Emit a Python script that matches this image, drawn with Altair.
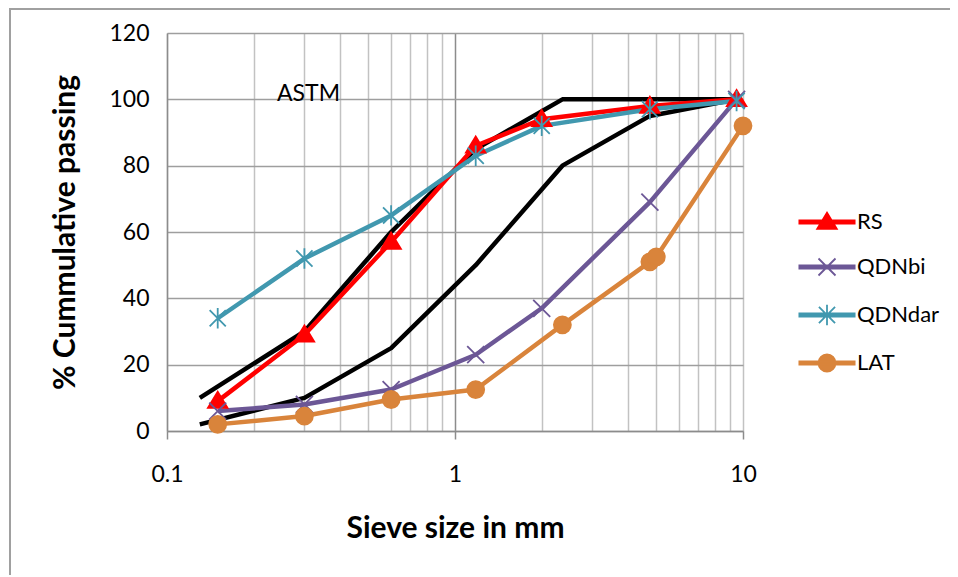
import altair as alt
import pandas as pd

# ---------------- data ----------------
series_names = ["RS", "QDNbi", "QDNdar", "LAT"]

rs_x = [0.15, 0.3, 0.6, 1.18, 2.0, 4.75, 9.5]
rs_y = [9, 29, 57, 86, 94, 98, 100]

qdnbi_x = [0.15, 0.3, 0.6, 1.18, 2.0, 4.75, 9.5]
qdnbi_y = [6, 8, 12.5, 23, 37, 69, 100]

qdndar_x = [0.15, 0.3, 0.6, 1.18, 2.0, 4.75, 9.5]
qdndar_y = [34, 52, 65, 83, 92, 97, 99.5]

lat_x = [0.15, 0.3, 0.6, 1.18, 2.36, 4.75, 5.0, 10]
lat_y = [2, 4.5, 9.5, 12.5, 32, 51, 52.5, 92]

astm_x = [0.13, 0.3, 0.6, 1.18, 2.36, 4.75, 9.5]
astm_upper = [10, 30, 60, 85, 100, 100, 100]
astm_lower = [2, 10, 25, 50, 80, 95, 100]

astm_label = ["ASTM"]
astm_label_x = [0.31]
astm_label_y = [101.5]

x_grid_values = [0.1, 0.2, 0.3, 0.4, 0.5, 0.6, 0.7, 0.8, 0.9,
                 1, 2, 3, 4, 5, 6, 7, 8, 9, 10]
y_tick_values = [0, 20, 40, 60, 80, 100, 120]

# ---------------- styles ----------------
colors = ["#ff0000", "#6c5796", "#4198af", "#d9843b"]
fills = ["#ff0000", "transparent", "transparent", "#d9843b"]
TRI = "M0,-1.1L1.15,0.8L-1.15,0.8Z"
XSH = "M-1,-1L1,1M-1,1L1,-1"
AST = "M-0.95,-0.95L0.95,0.95M-0.95,0.95L0.95,-0.95M0,-1.2L0,1.2"
CIR = "M1,0A1,1,0,1,1,-1,0A1,1,0,1,1,1,0Z"
point_shapes = [TRI, XSH, AST, "circle"]
BAR = "M-3.25,-0.18L3.25,-0.18L3.25,0.18L-3.25,0.18Z"
legend_shapes = [BAR + TRI, BAR + XSH, BAR + AST, BAR + CIR]

FONT = "Lato"

# ---------------- tables ----------------
rows = []
for name, xs, ys in [("RS", rs_x, rs_y), ("QDNbi", qdnbi_x, qdnbi_y),
                     ("QDNdar", qdndar_x, qdndar_y), ("LAT", lat_x, lat_y)]:
    for xv, yv in zip(xs, ys):
        rows.append({"series": name, "x": xv, "y": yv})
df = pd.DataFrame(rows)

astm_rows = []
for name, ys in [("upper", astm_upper), ("lower", astm_lower)]:
    for xv, yv in zip(astm_x, ys):
        astm_rows.append({"limit": name, "x": xv, "y": yv})
astm_df = pd.DataFrame(astm_rows)

label_df = pd.DataFrame({"text": astm_label, "x": astm_label_x, "y": astm_label_y})
legend_df = pd.DataFrame({"series": series_names})
frame_df = pd.DataFrame({"k": [0]})

# ---------------- encodings ----------------
decade_test = "datum.value == 0.1 || datum.value == 1 || datum.value == 10"
X = alt.X(
    "x:Q",
    scale=alt.Scale(type="log", domain=[0.1, 10], nice=False),
    axis=alt.Axis(
        values=x_grid_values,
        labelExpr="datum.value == 0.1 ? '0.1' : datum.value == 1 ? '1' : datum.value == 10 ? '10' : ''",
        title="Sieve size in mm",
        grid=True,
        gridColor={"condition": {"test": "datum.value == 1", "value": "#8c8c8c"}, "value": "#c2c2c2"},
        gridWidth=1.5,
        tickOpacity={"condition": {"test": decade_test, "value": 1}, "value": 0},
        tickColor="#8c8c8c",
        tickWidth=1.5,
        tickSize=8,
        domainColor="#8c8c8c",
        domainWidth=1.5,
        labelFont=FONT,
        labelFontSize=23,
        labelColor="#000000",
        labelPadding=24,
        labelFlush=False,
        labelOverlap=False,
        titleFont=FONT,
        titleFontSize=30,
        titleFontWeight="bold",
        titleColor="#000000",
        titleX=288,
        titleY=97,
        titleAlign="center",
        titleBaseline="middle",
    ),
)
Y = alt.Y(
    "y:Q",
    scale=alt.Scale(domain=[0, 120], nice=False),
    axis=alt.Axis(
        values=y_tick_values,
        title="% Cummulative passing",
        grid=True,
        gridColor="#9e9e9e",
        gridWidth=1.5,
        ticks=False,
        tickSize=0,
        domainColor="#8c8c8c",
        domainWidth=1.5,
        labelFont=FONT,
        labelFontSize=23,
        labelColor="#000000",
        labelPadding=18,
        titleFont=FONT,
        titleFontSize=30,
        titleFontWeight="bold",
        titleColor="#000000",
        titleAngle=-90,
        titleX=-102,
        titleY=199,
        titleAlign="center",
        titleBaseline="middle",
    ),
)

# ---------------- layers ----------------
astm_lines = alt.Chart(astm_df).mark_line(
    color="#000000", strokeWidth=4.5, strokeJoin="round"
).encode(x=X, y=Y, detail="limit:N")

series_lines = alt.Chart(df).mark_line(strokeWidth=4.5, strokeJoin="round").encode(
    x=X, y=Y,
    color=alt.Color("series:N", scale=alt.Scale(domain=series_names, range=colors), legend=None),
)

series_points = alt.Chart(df).mark_point(size=289, opacity=1, strokeWidth=1.8).encode(
    x=X, y=Y,
    shape=alt.Shape("series:N", scale=alt.Scale(domain=series_names, range=point_shapes), legend=None),
    fill=alt.Fill("series:N", scale=alt.Scale(domain=series_names, range=fills), legend=None),
    stroke=alt.Stroke("series:N", scale=alt.Scale(domain=series_names, range=colors), legend=None),
)

astm_text = alt.Chart(label_df).mark_text(
    font=FONT, fontSize=23, color="#000000", align="center", baseline="middle"
).encode(x=X, y=Y, text="text:N")

frame_left = alt.Chart(frame_df).mark_rule(color="#a0a0a0", strokeWidth=2, clip=False).encode(
    x=alt.value(-157), y=alt.value(-25), y2=alt.value(560)
)
frame_top = alt.Chart(frame_df).mark_rule(color="#a0a0a0", strokeWidth=2, clip=False).encode(
    x=alt.value(-158), x2=alt.value(790), y=alt.value(-24)
)

leg = alt.Legend(
    title=None,
    orient="none",
    legendX=649,
    legendY=178,
    symbolSize=289,
    symbolStrokeWidth=1.8,
    symbolOpacity=1,
    labelFont=FONT,
    labelFontSize=22,
    labelColor="#000000",
    labelOffset=19,
    rowPadding=21,
    padding=0,
)
legend_layer = alt.Chart(legend_df).mark_point(size=289, opacity=1, strokeWidth=1.8).encode(
    shape=alt.Shape("series:N", scale=alt.Scale(domain=series_names, range=legend_shapes), legend=leg),
    fill=alt.Fill("series:N", scale=alt.Scale(domain=series_names, range=colors), legend=leg),
    stroke=alt.Stroke("series:N", scale=alt.Scale(domain=series_names, range=colors), legend=leg),
).transform_filter("false")

chart = alt.layer(
    astm_lines, series_lines, series_points, astm_text, frame_left, frame_top, legend_layer
).resolve_scale(
    shape="independent", fill="independent", stroke="independent"
).properties(
    width=576,
    height=398,
    autosize=alt.AutoSizeParams(type="none"),
    padding={"left": 159, "top": 25, "right": 207, "bottom": 144},
).configure_view(stroke=None)

chart.save("out.html", embed_options={"renderer": "svg", "actions": False})
